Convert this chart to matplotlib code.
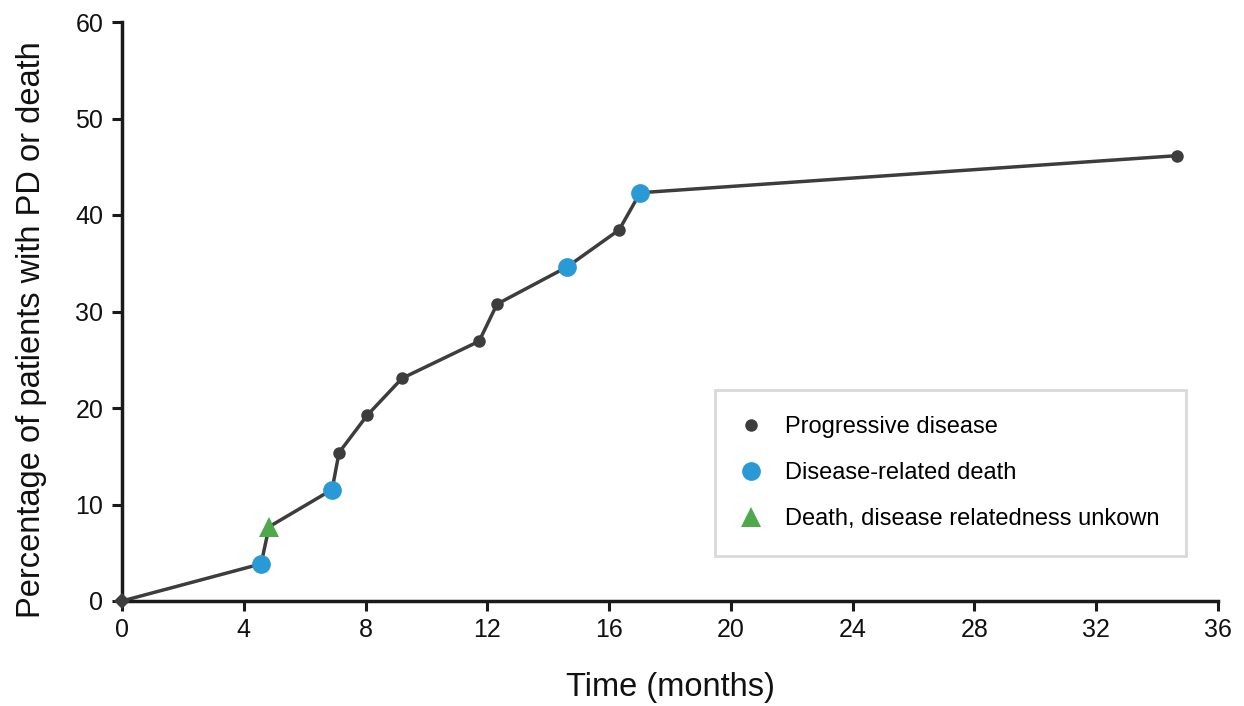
import matplotlib
matplotlib.use("Agg")
import matplotlib.pyplot as plt
from matplotlib.lines import Line2D

plt.rcParams['font.family'] = ['Liberation Sans', 'DejaVu Sans']

# Data
time_months = [0, 4.57, 4.83, 6.9, 7.13, 8.05, 9.2, 11.73, 12.32, 14.62, 16.33, 17.02, 34.66]
pct_pd_death = [0, 3.85, 7.69, 11.54, 15.38, 19.23, 23.08, 26.92, 30.77, 34.62, 38.46, 42.31, 46.15]
event_type = ['start', 'drd', 'unk', 'drd', 'pd', 'pd', 'pd', 'pd', 'pd', 'drd', 'pd', 'drd', 'pd']
x_ticks = [0, 4, 8, 12, 16, 20, 24, 28, 32, 36]
y_ticks = [0, 10, 20, 30, 40, 50, 60]
legend_labels = ['Progressive disease', 'Disease-related death', 'Death, disease relatedness unkown']

line_col = '#3d3d3d'
blue = '#2a9ad6'
green = '#4fa84a'
txt = '#111111'

fig = plt.figure(figsize=(12.44, 7.06), dpi=100)
ax = fig.add_axes([122/1244, 1-601/706, (1218-122)/1244, (601-22)/706])

ax.plot(time_months, pct_pd_death, color=line_col, lw=2.5, zorder=2, clip_on=False)

styles = {
    'start': dict(marker='D', color=line_col, ms=8),
    'pd': dict(marker='o', color=line_col, ms=9),
    'drd': dict(marker='o', color=blue, ms=13.5),
    'unk': dict(marker='^', color=green, ms=15),
}
for t, p, e in zip(time_months, pct_pd_death, event_type):
    s = styles[e]
    ax.plot([t], [p], linestyle='none', marker=s['marker'], color=s['color'],
            markersize=s['ms'], markeredgewidth=0, zorder=3, clip_on=False)

ax.set_xlim(0, 36)
ax.set_ylim(0, 60)
ax.set_xticks(x_ticks)
ax.set_yticks(y_ticks)
for side in ['top', 'right']:
    ax.spines[side].set_visible(False)
for side in ['left', 'bottom']:
    ax.spines[side].set_linewidth(2.5)
    ax.spines[side].set_color('#1a1a1a')
ax.tick_params(direction='out', length=7.5, width=2.2, color='#1a1a1a',
               labelsize=18, labelcolor=txt)
ax.tick_params(axis='x', pad=5)
ax.tick_params(axis='y', pad=6)

ax.set_xlabel('Time (months)', fontsize=23.5, color=txt, labelpad=21)
ax.set_ylabel('Percentage of patients with PD or death', fontsize=23.5, color=txt)
ax.yaxis.set_label_coords((47 - 122) / 1096, (601 - 330) / 579)

handles = [
    Line2D([], [], linestyle='none', marker='o', color=line_col, markersize=9, markeredgewidth=0),
    Line2D([], [], linestyle='none', marker='o', color=blue, markersize=13.5, markeredgewidth=0),
    Line2D([], [], linestyle='none', marker='^', color=green, markersize=15, markeredgewidth=0),
]
leg = ax.legend(handles, legend_labels, loc='lower left',
                bbox_to_anchor=((715-122)/1096, (601-556)/579, (1186-715)/1096, (556-392)/579),
                mode='expand', fontsize=17, frameon=True, fancybox=False,
                borderpad=1.1, labelspacing=1.02, handlelength=0.85, handletextpad=1.02,
                borderaxespad=0)
leg.get_frame().set_edgecolor('#d0d0d0')
leg.get_frame().set_linewidth(2)

fig.savefig('out.png', dpi=100)
